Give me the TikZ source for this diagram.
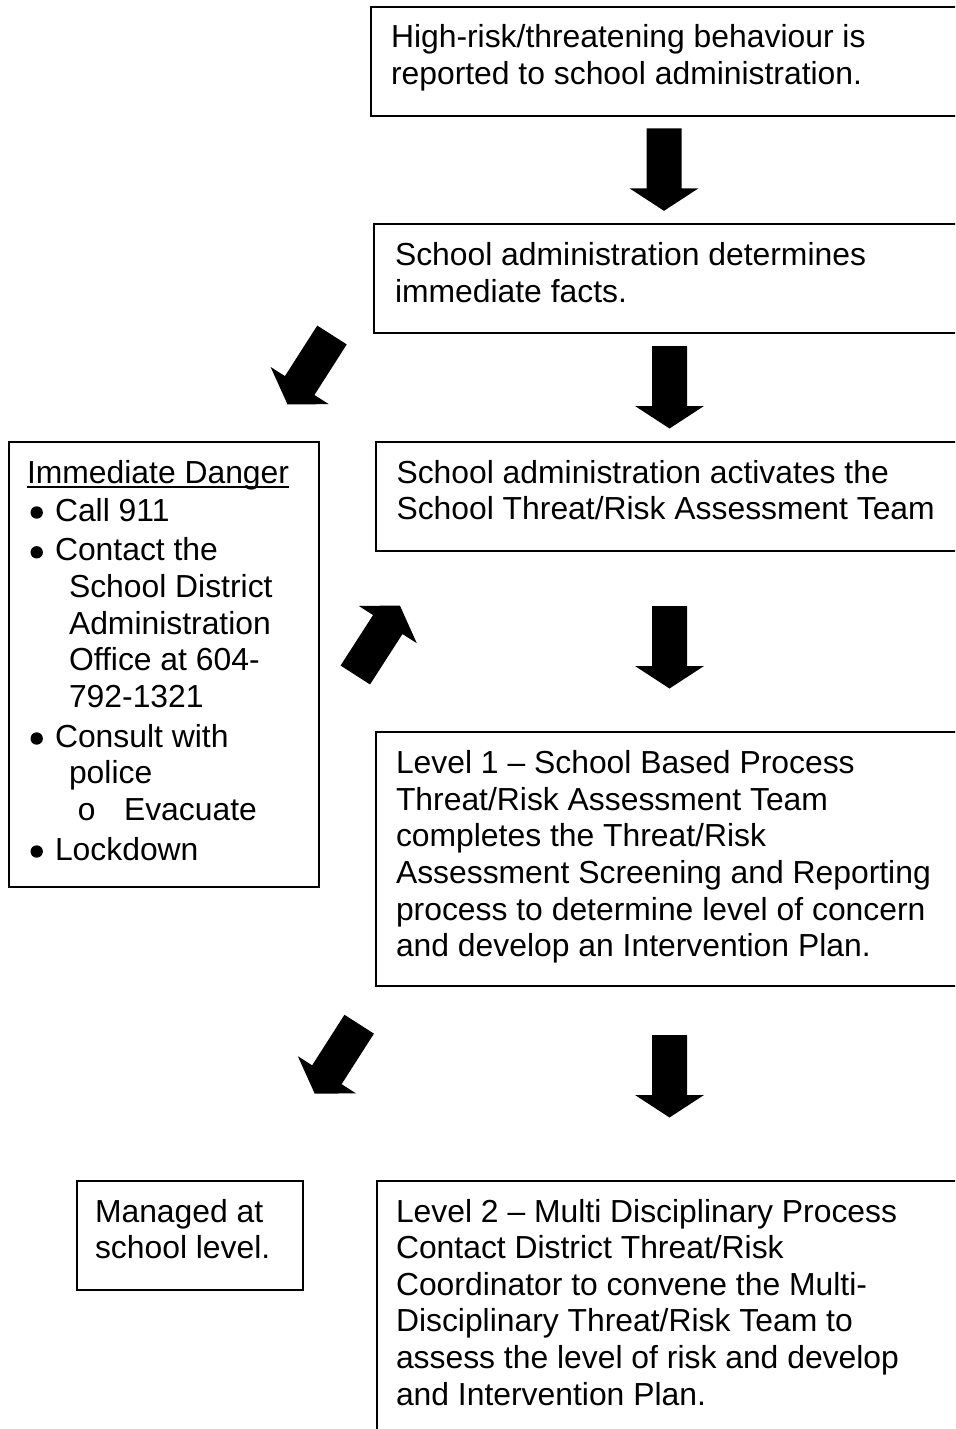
\documentclass[tikz,border=0pt]{standalone}
\usepackage{fontspec}
\setmainfont{Liberation Sans}
\newfontfamily\monofont{Liberation Mono}
\begin{document}
\begin{tikzpicture}[x=0.5pt,y=-0.5pt,
  box/.style={draw=black,line width=1.1pt,rectangle,inner sep=0pt,outer sep=0pt,anchor=north west},
  txt/.style={inner sep=0pt,outer sep=0pt,anchor=base west,font=\fontsize{15.93pt}{18.3pt}\selectfont},
  bulletdot/.style={fill=black},
  blockarrow/.pic={\fill[black] (0,-17.5) -- (60,-17.5) -- (60,-34.5) -- (82.5,0) -- (60,34.5) -- (60,17.5) -- (0,17.5) -- cycle;}]
\useasboundingbox (0,0) rectangle (955,1429);
\clip (0,0) rectangle (955,1429);
% boxes
\node[box,minimum width=297pt,minimum height=54.5pt] (b1) at (371,7) {};
\node[box,minimum width=295.5pt,minimum height=54.5pt] (b2) at (374,224.3) {};
\node[box,minimum width=294.5pt,minimum height=54.5pt] (b3) at (376,442) {};
\node[box,minimum width=154.85pt,minimum height=222.5pt] (bL) at (9.3,441.7) {};
\node[box,minimum width=294.35pt,minimum height=126.85pt] (b4) at (376.3,732.3) {};
\node[box,minimum width=113.15pt,minimum height=54.5pt] (bM) at (77,1181) {};
\node[box,minimum width=294.15pt,minimum height=130pt] (b5) at (376.7,1181) {};
% texts
\node[txt] (t1) at (391,48) {\vtop{\hbox{High-risk/threatening behaviour is}\hbox{reported to school administration.}}};
\node[txt] (t2) at (395,265.5) {\vtop{\hbox{School administration determines}\hbox{immediate facts.}}};
\node[txt] (t3) at (396.5,483) {\vtop{\hbox{School administration activates the}\hbox{School Threat/Risk Assessment Team}}};
\node[txt] (dang) at (27,483) {Immediate Danger};
\draw[line width=1pt] ([yshift=-1.75pt]dang.base west) -- ([yshift=-1.75pt]dang.base east);
\node[txt] (list) at (27,521) {\vtop{%
  \hbox{\hskip14pt Call 911}\vskip1.6pt
  \hbox{\hskip14pt Contact the}
  \hbox{\hskip21pt School District}
  \hbox{\hskip21pt Administration}
  \hbox{\hskip21pt Office at 604-}
  \hbox{\hskip21pt 792-1321}\vskip1.6pt
  \hbox{\hskip14pt Consult with}
  \hbox{\hskip21pt police}
  \hbox{\hskip25pt\makebox[23.5pt][l]{\monofont o}Evacuate}\vskip1.6pt
  \hbox{\hskip14pt Lockdown}}};
% bullets
\fill[bulletdot] (36.7,512.5) circle[radius=3.1pt];
\fill[bulletdot] (36.7,552.3) circle[radius=3.1pt];
\fill[bulletdot] (36.7,738.5) circle[radius=3.1pt];
\fill[bulletdot] (36.7,851.5) circle[radius=3.1pt];
\node[txt] (t4) at (396,773.7) {\vtop{\hbox{Level 1 -- School Based Process}\hbox{Threat/Risk Assessment Team}\hbox{completes the Threat/Risk}\hbox{Assessment Screening and Reporting}\hbox{process to determine level of concern}\hbox{and develop an Intervention Plan.}}};
\node[txt] (tM) at (95,1222) {\vtop{\hbox{Managed at}\hbox{school level.}}};
\node[txt] (t5) at (396,1222) {\vtop{\hbox{Level 2 -- Multi Disciplinary Process}\hbox{Contact District Threat/Risk}\hbox{Coordinator to convene the Multi-}\hbox{Disciplinary Threat/Risk Team to}\hbox{assess the level of risk and develop}\hbox{and Intervention Plan.}}};
% block arrows
\pic[rotate=-90] at (664,128.3) {blockarrow};
\pic[rotate=-90] at (669.5,346) {blockarrow};
\pic[rotate=-90] at (669.5,606) {blockarrow};
\pic[rotate=-90] at (669.5,1035) {blockarrow};
\pic[rotate=237.4] at (332,335) {blockarrow};
\pic[rotate=57.25] at (355.3,675) {blockarrow};
\pic[rotate=237.4] at (359.2,1024.2) {blockarrow};
\end{tikzpicture}
\end{document}
